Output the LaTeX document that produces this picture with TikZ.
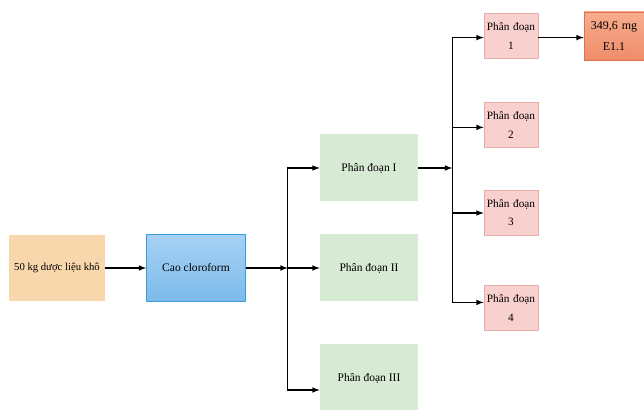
\documentclass[tikz,border=0pt]{standalone}
\usepackage{fontspec}
\setmainfont{Liberation Serif}
\usetikzlibrary{arrows}
\definecolor{rawfill}{HTML}{F9D7AC}
\definecolor{caotop}{HTML}{A6D2F5}
\definecolor{caobot}{HTML}{7CBAEA}
\definecolor{caoline}{HTML}{3A9EDC}
\definecolor{fracfill}{HTML}{D7EAD4}
\definecolor{subfill}{HTML}{F8D0CE}
\definecolor{subline}{HTML}{EAAAA6}
\definecolor{prodtop}{HTML}{F8AD8F}
\definecolor{prodbot}{HTML}{EF8C69}
\definecolor{prodline}{HTML}{E0704E}
\tikzstyle{rawbox} = [rectangle, minimum width=2.4cm, minimum height=1.65cm, text centered, inner sep=1pt, fill=rawfill, font=\fontsize{7.6}{9}\selectfont]
\tikzstyle{extract} = [rectangle, minimum width=2.475cm, minimum height=1.675cm, text centered, draw=caoline, top color=caotop, bottom color=caobot]
\tikzstyle{fraction} = [rectangle, minimum width=2.45cm, minimum height=1.675cm, text centered, fill=fracfill]
\tikzstyle{subfraction} = [rectangle, minimum width=1.35cm, minimum height=1.125cm, text width=1.3cm, inner sep=0pt, align=center, draw=subline, fill=subfill, font=\fontsize{8}{13}\selectfont]
\tikzstyle{product} = [rectangle, minimum width=1.5cm, minimum height=1.2cm, text width=1.45cm, inner sep=0pt, align=center, draw=prodline, top color=prodtop, bottom color=prodbot, font=\fontsize{8.5}{14.5}\selectfont]
\tikzstyle{arrow} = [thick,->,>=latex]
\tikzstyle{line} = [thick]

\begin{document}
\begin{tikzpicture}[node distance=2.5cm, font=\fontsize{8.2}{10}\selectfont]

	\useasboundingbox (-1.425,-3.55) rectangle (14.675,6.7);

	\node (raw) [rawbox] {50 kg dược liệu khô};
	\node (cao) [extract, right of=raw, xshift=0.975cm] {Cao cloroform};

	\node (frII) [fraction, right of=cao, xshift=1.825cm] {Phân đoạn II};
	\node (frI) [fraction, above of=frII] {Phân đoạn I};
	\node (frIII) [fraction, below of=frII, yshift=-0.25cm] {Phân đoạn III};

	\node (sub1) [subfraction, right of=frI, xshift=1.05cm, yshift=3.3cm] {Phân đoạn\\1};
	\node (sub2) [subfraction, below of=sub1, yshift=0.275cm] {Phân đoạn\\2};
	\node (sub3) [subfraction, below of=sub2, yshift=0.3cm] {Phân đoạn\\3};
	\node (sub4) [subfraction, below of=sub3, yshift=0.125cm] {Phân đoạn\\4};

	\node (e11) [product, right of=sub1, xshift=0.075cm] {349,6 mg\\E1.1};

	\coordinate (hubA) at ([xshift=1.05cm]cao.east);
	\coordinate (hubB) at ([xshift=0.85cm]frI.east);

	\draw [arrow] (raw) -- (cao);
	\draw [arrow] (cao) -- (hubA);
	\draw [arrow] (hubA) |- (frI);
	\draw [arrow] (hubA) -- (frII);
	\draw [arrow] (hubA) |- ([yshift=-0.3cm]frIII.west);

	\draw [arrow] (frI) -- (hubB);
	\draw [arrow] (hubB) |- ([yshift=-0.04cm]sub1.west);
	\draw [arrow] (hubB) |- ([yshift=-0.06cm]sub2.west);
	\draw [arrow] (hubB) |- (sub3);
	\draw [arrow] (hubB) |- ([yshift=0.14cm]sub4.west);

	\draw [arrow] ([yshift=-0.04cm]sub1.east) -- ([yshift=-0.04cm]sub1.east -| e11.west);

\end{tikzpicture}
\end{document}
